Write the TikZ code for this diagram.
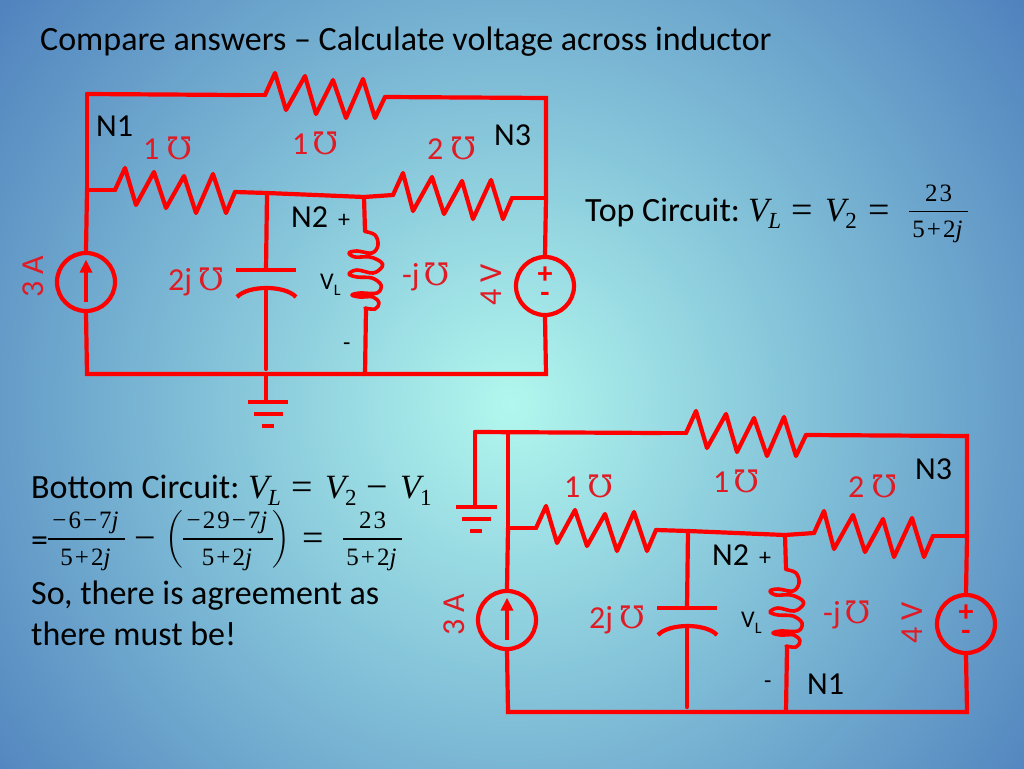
\documentclass[tikz,border=0pt]{standalone}
\usepackage[no-math]{fontspec}
\setmainfont{Carlito}
\newfontfamily\mhofont{DejaVu Serif}
\newfontfamily\eqfont{Liberation Serif}
\newfontfamily\frfont[LetterSpace=8]{Liberation Serif}
\newcommand{\mhosym}{{\fontsize{31}{31}\selectfont\mhofont\char"2127}}
\definecolor{wire}{HTML}{FF0000}
\definecolor{lab}{HTML}{E01B24}
\definecolor{bgA}{HTML}{B2F7EE}
\definecolor{bgB}{HTML}{84C3D9}
\definecolor{bgC}{HTML}{4F81BD}
\pgfdeclareradialshading{slidebg}{\pgfpoint{0bp}{0bp}}{color(0bp)=(bgA); color(11bp)=(bgB); color(25bp)=(bgC); color(50bp)=(bgC)}
\newcommand{\fsz}[1]{\fontsize{#1}{#1}\selectfont}
% math pieces set in a text serif
\newcommand{\vsub}[2]{{\eqfont\fsz{34}\textit{V}\hspace{-4pt}\raisebox{-7pt}{\fsz{23}#2}}}
\tikzset{
  wr/.style={draw=wire,line width=4.2pt,line cap=round,line join=miter},
  blk/.style={anchor=base west,inner sep=0pt,text=black},
  rlab/.style={anchor=base west,inner sep=0pt,text=lab},
  srcbox/.style={circle,draw=wire,line width=4.2pt,minimum size=58pt,inner sep=0pt},
  frpart/.style={anchor=base,inner sep=0pt,text=black},
  frbar/.style={draw=black,line width=1.6pt},
  ckt/.pic={
    \coordinate (-a) at (87,94);
    \coordinate (-b) at (240,95);
    \coordinate (-c) at (265,95);
    \coordinate (-d) at (385,97);
    \coordinate (-e) at (546,98);
    \coordinate (-f) at (87,190);
    \coordinate (-g) at (115,190);
    \coordinate (-h) at (235,192);
    \coordinate (-i) at (267,193);
    \coordinate (-j) at (364,197);
    \coordinate (-k) at (393,195);
    \coordinate (-l) at (512,198);
    \coordinate (-m) at (546,198);
    \coordinate (-n) at (87,374);
    \coordinate (-o) at (546,374);
    \coordinate (-p) at (266,374);
    \coordinate (-q) at (365,374);
    \node[srcbox] (-cs) at (86,282) {};
    \node[srcbox] (-vs) at (545,286) {};
    % outer loop
    \draw[wr] (-f) -- (-cs.north);
    \draw[wr] (-cs.south) -- (-n) -- (-o) -- (-vs.south);
    \draw[wr] (-vs.north) -- (-m) -- (-e) -- (-d);
    \draw[wr] (-m) -- (-l);
    \draw[wr] (-f) -- (-g);
    \draw[wr] (-h) -- (-i) -- (-j) -- (-k);
    \draw[wr] (-b) -- (-c);
    % resistors
    \draw[wr,line join=round] (-c) -- (275,73) -- (286,110) -- (305,76) -- (316,114) -- (333,80) -- (346,118) -- (363,79) -- (375,118) -- (-d);
    \draw[wr,line join=round] (-g) -- (125,168) -- (136,205) -- (154,172) -- (166,208) -- (184,176) -- (196,213) -- (213,174) -- (226,213) -- (-h);
    \draw[wr,line join=round] (-k) -- (403,173) -- (413,211) -- (432,177) -- (444,214) -- (462,181) -- (473,219) -- (491,180) -- (503,219) -- (-l);
    % capacitor
    \coordinate (-cp1) at (266,270);
    \coordinate (-cp2) at (266,288);
    \draw[wr] (-i) -- (-cp1);
    \draw[wr,line cap=butt] (236,270) -- (296,270);
    \draw[wr,line cap=butt] (237,297) .. controls (248,285) and (285,285) .. (296,297);
    \draw[wr] (-cp2) -- (266,369);
    % inductor
    \coordinate (-l1) at (365,231);
    \coordinate (-l2) at (366,309);
    \draw[wr] (-j) -- (-l1);
    \draw[wr] (-l2) -- (-q);
    \draw[draw=wire,line width=3.6pt,line cap=round,line join=round] plot[smooth,tension=0.6] coordinates {
      (365,231.5) (375,235) (378,245) (372,253) (357,251) (349,253) (355,257) (370,257) (381,262) (382,267) (373,273) (357,270) (349,274) (357,277) (372,278) (381,285) (377,293) (360,293) (352,295) (360,297) (373,297) (379,303) (375,309) (365,308)};
    % source internals
    \draw[draw=wire,line width=4.2pt] (86,302) -- (86,270);
    \fill[wire] (86,260) -- (92.5,272.5) -- (79.5,272.5) -- cycle;
    \node[anchor=center,inner sep=0pt,text=wire] (-plus) at (545,275) {\fsz{30}\bfseries +};
    \node[anchor=center,inner sep=0pt,text=wire] (-minus) at (545,297) {\fsz{30}\bfseries -};
    % labels
    \node[rlab] (-r1) at (143,159) {\fsz{32}1\hspace{7pt}\mhosym};
    \node[rlab] (-r2) at (292,154) {\fsz{32}1\hspace{4pt}\mhosym};
    \node[rlab] (-r3) at (427,159) {\fsz{32}2\hspace{7pt}\mhosym};
    \node[rlab] (-c1) at (168,290) {\fsz{32}2j\hspace{6pt}\mhosym};
    \node[rlab] (-c2) at (402,285) {\fsz{32}-j\hspace{4pt}\mhosym};
    \node[rlab,anchor=base,rotate=90] (-v4) at (501,285) {\fsz{32}4 V};
    \node[rlab,anchor=base,rotate=90] (-v3) at (43,277) {\fsz{32}3 A};
    \node[blk] (-n2) at (291,227) {\fsz{32}N2};
    \node[blk] (-pl) at (338,227) {\fsz{24}+};
    \node[blk] (-vl) at (320,289) {\fsz{24}V\raisebox{-6pt}{\fsz{16}L}};
    \node[blk] (-mi) at (343,350) {\fsz{24}-};
  }
}
% name, centre x, bar y, half width, numerator, denominator
\newcommand{\ofrac}[6]{%
  \coordinate (#1-bl) at (#2-#4,#3);
  \coordinate (#1-br) at (#2+#4,#3);
  \draw[frbar] (#1-bl) -- (#1-br);
  \node[frpart] (#1-n) at (#2,#3-10.5) {\frfont\fsz{25}#5};
  \node[frpart] (#1-d) at (#2,#3+26) {\frfont\fsz{25}#6};
}
\begin{document}
\begin{tikzpicture}[x=1pt,y=-1pt]
\useasboundingbox (0,0) rectangle (1024,768);
\begin{scope}
\clip (0,0) rectangle (1024,768);
\shade[shading=slidebg] (510,405) circle (660pt);
\end{scope}
\node[blk] (title) at (40,50) {\fsz{34}Compare answers -- Calculate voltage across inductor};
% top circuit
\pic (top) at (0,0) {ckt};
\coordinate (gt) at (266,402);
\draw[wr] (top-p) -- (gt);
\draw[wr,line cap=butt] (248,402) -- (288,402);
\draw[wr,line cap=butt] (254,414) -- (283,414);
\draw[wr,line cap=butt] (262,426) -- (274,426);
\draw[wr] (top-a) -- (top-b);
\draw[wr] (top-a) -- (top-f);
\node[blk] (n1t) at (96,136) {\fsz{32}N1};
\node[blk] (n3t) at (494,145) {\fsz{32}N3};
% bottom circuit
\pic (bot) at (421,338) {ckt};
\coordinate (gb) at (475,432);
\draw[wr] (gb) -- (bot-b);
\draw[wr] (bot-a) -- (bot-f);
\draw[wr] (gb) -- (475,507);
\draw[wr,line cap=butt] (456,507) -- (497,507);
\draw[wr,line cap=butt] (462,519) -- (491,519);
\draw[wr,line cap=butt] (470,531) -- (482,531);
\node[blk] (n1b) at (807,694) {\fsz{32}N1};
\node[blk] (n3b) at (915,479) {\fsz{32}N3};
% top equation
\node[blk] (topeq) at (585,221) {\fsz{34}Top Circuit:};
\node[blk] (tv1) at (748,221) {\vsub{V}{\textit{L}}};
\node[blk] (te1) at (791,222) {\eqfont\fsz{38}=};
\node[blk] (tv2) at (825,221) {\vsub{V}{2}};
\node[blk] (te2) at (868,222) {\eqfont\fsz{38}=};
\ofrac{tf}{938.5}{211.5}{29.5}{23}{5+2\textit{j}}
% bottom equation
\node[blk] (boteq) at (31,498) {\fsz{34}Bottom Circuit:};
\node[blk] (bv1) at (248,498) {\vsub{V}{\textit{L}}};
\node[blk] (be1) at (291,499) {\eqfont\fsz{38}=};
\node[blk] (bv2) at (325,498) {\vsub{V}{2}};
\node[blk] (bm1) at (366,499) {\eqfont\fsz{38}−};
\node[blk] (bv3) at (400,498) {\vsub{V}{1}};
% second line
\node[blk] (l2e) at (31,551) {\fsz{34}=};
\ofrac{fa}{86.5}{539}{38.5}{−6−7\textit{j}}{5+2\textit{j}}
\node[blk] (l2m) at (134,550) {\eqfont\fsz{38}−};
\node[anchor=center,inner sep=0pt] (pl) at (174,539) {\scalebox{2.4}{$\bigg($}};
\ofrac{fb}{228}{539}{45}{−29−7\textit{j}}{5+2\textit{j}}
\node[anchor=center,inner sep=0pt] (pr) at (281,539) {\scalebox{2.4}{$\bigg)$}};
\node[blk] (l2q) at (302,550) {\eqfont\fsz{38}=};
\ofrac{fc}{372.5}{539}{29.5}{23}{5+2\textit{j}}
\node[blk] (line3) at (31,604) {\fsz{34}So, there is agreement as};
\node[blk] (line4) at (31,645) {\fsz{34}there must be!};
\end{tikzpicture}
\end{document}
